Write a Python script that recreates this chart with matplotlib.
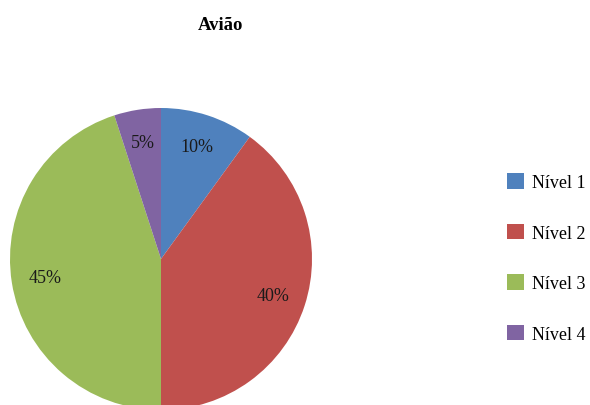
import matplotlib
matplotlib.use('Agg')
import matplotlib.pyplot as plt
from matplotlib.patches import Patch

# dados
categorias = ['Nível 1', 'Nível 2', 'Nível 3', 'Nível 4']
valores = [10, 40, 45, 5]
cores = ['#4F81BD', '#C0504D', '#9BBB59', '#8064A2']

plt.rcParams['font.family'] = ['Liberation Serif', 'DejaVu Serif']

fig = plt.figure(figsize=(5.9, 4.06), dpi=100)
# pizza: centro (161, 260) px, raio 151 px
ax = fig.add_axes([10 / 590, -5 / 406, 302 / 590, 302 / 406])
ax.pie(valores, colors=cores, startangle=90, counterclock=False,
       autopct='%d%%', pctdistance=0.78, radius=1,
       textprops={'fontsize': 13, 'color': '#1a1a1a'})
ax.set_xlim(-1, 1)
ax.set_ylim(-1, 1)
ax.set_aspect('equal')
ax.axis('off')

fig.text(221 / 590, 1 - 25 / 406, 'Avião', ha='center', va='center',
         fontsize=13.5, fontweight='bold')

handles = [Patch(facecolor=c, edgecolor='none') for c in cores]
fig.legend(handles, categorias, loc='center left',
           bbox_to_anchor=(507 / 590, 1 - 259 / 406), frameon=False,
           borderpad=0, borderaxespad=0,
           fontsize=13, handlelength=0.95, handleheight=0.95,
           labelspacing=1.8, handletextpad=0.45)

fig.savefig('out.png', dpi=100)
